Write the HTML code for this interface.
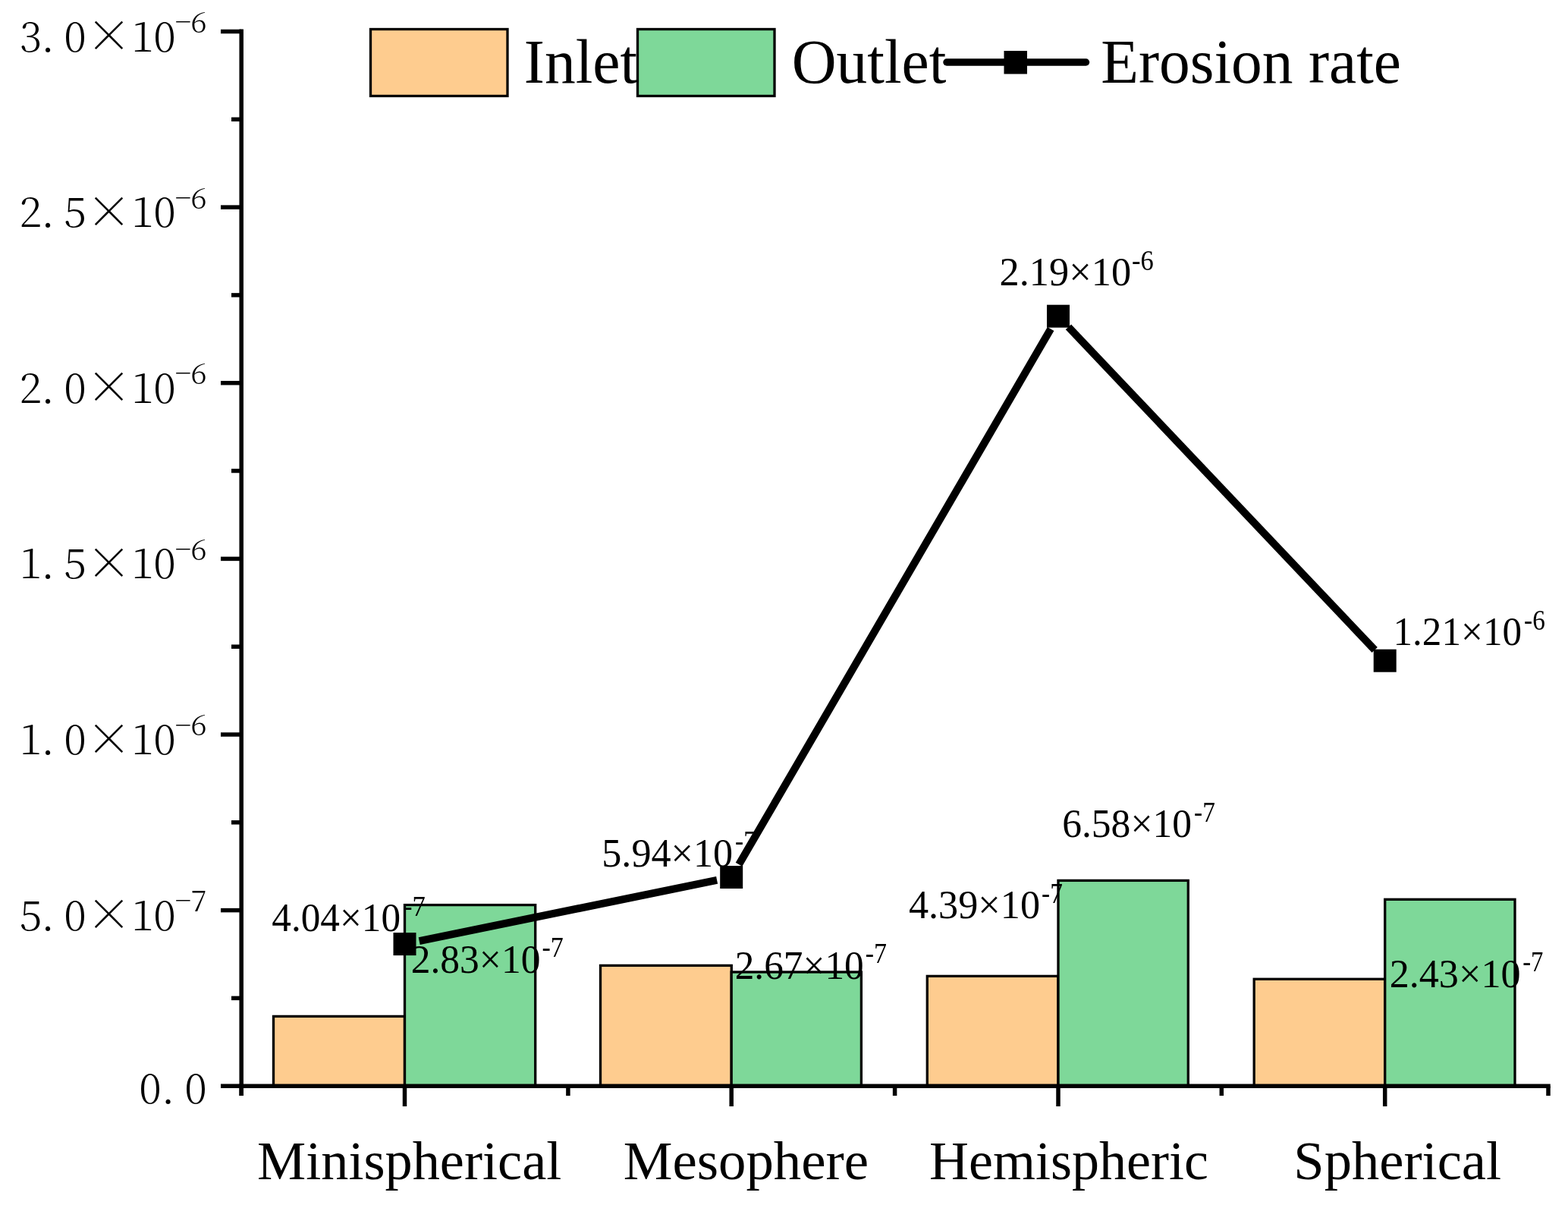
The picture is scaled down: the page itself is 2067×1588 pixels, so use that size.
<!DOCTYPE html>
<html><head><meta charset="utf-8"><title>Erosion rate chart</title>
<style>html,body{margin:0;padding:0;background:#fff;width:2067px;height:1588px;overflow:hidden}svg{display:block}</style>
</head><body>
<svg width="2067" height="1588" viewBox="0 0 2067 1588">
<rect x="0" y="0" width="2067" height="1588" fill="#fff"/>
<rect x="360.5" y="1339.4" width="173.0" height="91.8" fill="#FECC8F" stroke="#000" stroke-width="3.3"/>
<rect x="791.5" y="1272.4" width="172.8" height="158.8" fill="#FECC8F" stroke="#000" stroke-width="3.3"/>
<rect x="1222.3" y="1286.4" width="172.7" height="144.8" fill="#FECC8F" stroke="#000" stroke-width="3.3"/>
<rect x="1653.2" y="1290.3" width="172.5" height="140.9" fill="#FECC8F" stroke="#000" stroke-width="3.3"/>
<rect x="533.5" y="1192.6" width="172.2" height="238.6" fill="#7ED899" stroke="#000" stroke-width="3.3"/>
<rect x="964.2" y="1281.0" width="171.2" height="150.2" fill="#7ED899" stroke="#000" stroke-width="3.3"/>
<rect x="1395.0" y="1160.4" width="171.3" height="270.8" fill="#7ED899" stroke="#000" stroke-width="3.3"/>
<rect x="1825.7" y="1185.3" width="171.3" height="245.9" fill="#7ED899" stroke="#000" stroke-width="3.3"/>
<g stroke="#000" stroke-width="5.5">
<line x1="318.2" y1="38.5" x2="318.2" y2="1444"/>
<line x1="315.45" y1="1431.2" x2="2043.75" y2="1431.2"/>
<line x1="291" y1="1431.2" x2="318.2" y2="1431.2"/>
<line x1="291" y1="1199.6" x2="318.2" y2="1199.6"/>
<line x1="291" y1="968.0" x2="318.2" y2="968.0"/>
<line x1="291" y1="736.4" x2="318.2" y2="736.4"/>
<line x1="291" y1="504.7" x2="318.2" y2="504.7"/>
<line x1="291" y1="273.1" x2="318.2" y2="273.1"/>
<line x1="291" y1="41.5" x2="318.2" y2="41.5"/>
<line x1="305" y1="1315.4" x2="318.2" y2="1315.4"/>
<line x1="305" y1="1083.8" x2="318.2" y2="1083.8"/>
<line x1="305" y1="852.2" x2="318.2" y2="852.2"/>
<line x1="305" y1="620.5" x2="318.2" y2="620.5"/>
<line x1="305" y1="388.9" x2="318.2" y2="388.9"/>
<line x1="305" y1="157.3" x2="318.2" y2="157.3"/>
<line x1="533.5" y1="1431.2" x2="533.5" y2="1458"/>
<line x1="964.2" y1="1431.2" x2="964.2" y2="1458"/>
<line x1="1395.0" y1="1431.2" x2="1395.0" y2="1458"/>
<line x1="1825.7" y1="1431.2" x2="1825.7" y2="1458"/>
<line x1="318.2" y1="1431.2" x2="318.2" y2="1444"/>
<line x1="748.9" y1="1431.2" x2="748.9" y2="1444"/>
<line x1="1179.6" y1="1431.2" x2="1179.6" y2="1444"/>
<line x1="1610.3" y1="1431.2" x2="1610.3" y2="1444"/>
<line x1="2041.0" y1="1431.2" x2="2041.0" y2="1444"/>
</g>
<g font-family="'Noto Serif CJK SC','Liberation Serif',serif" font-weight="300" fill="#000" text-anchor="middle"><text x="40.5" y="67.5" font-size="54.5">3</text><text x="63" y="67.5" font-size="54.5">.</text><text x="99" y="67.5" font-size="54.5">0</text><text x="143.5" y="69.0" font-size="61.0">×</text><text x="188" y="67.5" font-size="54.5">1</text><text x="217" y="67.5" font-size="54.5">0</text><text x="241.5" y="42.0" font-size="37.0">−</text><text x="262" y="42.9" font-size="39">6</text></g>
<g font-family="'Noto Serif CJK SC','Liberation Serif',serif" font-weight="300" fill="#000" text-anchor="middle"><text x="40.5" y="299.1" font-size="54.5">2</text><text x="63" y="299.1" font-size="54.5">.</text><text x="99" y="299.1" font-size="54.5">5</text><text x="143.5" y="300.6" font-size="61.0">×</text><text x="188" y="299.1" font-size="54.5">1</text><text x="217" y="299.1" font-size="54.5">0</text><text x="241.5" y="273.6" font-size="37.0">−</text><text x="262" y="274.5" font-size="39">6</text></g>
<g font-family="'Noto Serif CJK SC','Liberation Serif',serif" font-weight="300" fill="#000" text-anchor="middle"><text x="40.5" y="530.7" font-size="54.5">2</text><text x="63" y="530.7" font-size="54.5">.</text><text x="99" y="530.7" font-size="54.5">0</text><text x="143.5" y="532.2" font-size="61.0">×</text><text x="188" y="530.7" font-size="54.5">1</text><text x="217" y="530.7" font-size="54.5">0</text><text x="241.5" y="505.2" font-size="37.0">−</text><text x="262" y="506.1" font-size="39">6</text></g>
<g font-family="'Noto Serif CJK SC','Liberation Serif',serif" font-weight="300" fill="#000" text-anchor="middle"><text x="40.5" y="762.4" font-size="54.5">1</text><text x="63" y="762.4" font-size="54.5">.</text><text x="99" y="762.4" font-size="54.5">5</text><text x="143.5" y="763.9" font-size="61.0">×</text><text x="188" y="762.4" font-size="54.5">1</text><text x="217" y="762.4" font-size="54.5">0</text><text x="241.5" y="736.9" font-size="37.0">−</text><text x="262" y="737.8" font-size="39">6</text></g>
<g font-family="'Noto Serif CJK SC','Liberation Serif',serif" font-weight="300" fill="#000" text-anchor="middle"><text x="40.5" y="994.0" font-size="54.5">1</text><text x="63" y="994.0" font-size="54.5">.</text><text x="99" y="994.0" font-size="54.5">0</text><text x="143.5" y="995.5" font-size="61.0">×</text><text x="188" y="994.0" font-size="54.5">1</text><text x="217" y="994.0" font-size="54.5">0</text><text x="241.5" y="968.5" font-size="37.0">−</text><text x="262" y="969.4" font-size="39">6</text></g>
<g font-family="'Noto Serif CJK SC','Liberation Serif',serif" font-weight="300" fill="#000" text-anchor="middle"><text x="40.5" y="1225.6" font-size="54.5">5</text><text x="63" y="1225.6" font-size="54.5">.</text><text x="99" y="1225.6" font-size="54.5">0</text><text x="143.5" y="1227.1" font-size="61.0">×</text><text x="188" y="1225.6" font-size="54.5">1</text><text x="217" y="1225.6" font-size="54.5">0</text><text x="241.5" y="1200.1" font-size="37.0">−</text><text x="262" y="1201.0" font-size="39">7</text></g>
<g font-family="'Noto Serif CJK SC','Liberation Serif',serif" font-weight="300" fill="#000" text-anchor="middle"><text x="198" y="1453.7" font-size="54.5">0</text><text x="221.5" y="1453.7" font-size="54.5">.</text><text x="258" y="1453.7" font-size="54.5">0</text></g>
<g font-family="'Liberation Serif','Times New Roman',serif" fill="#000">
<text x="339.00" y="1554.00" font-size="72.3" textLength="401.28" lengthAdjust="spacingAndGlyphs">Minispherical</text>
<text x="821.79" y="1553.80" font-size="72.3" textLength="323.32" lengthAdjust="spacingAndGlyphs">Mesophere</text>
<text x="1224.91" y="1553.70" font-size="72.3" textLength="367.97" lengthAdjust="spacingAndGlyphs">Hemispheric</text>
<text x="1705.39" y="1554.10" font-size="72.3" textLength="273.80" lengthAdjust="spacingAndGlyphs">Spherical</text>
</g>
<g stroke="#000" stroke-width="10">
<line x1="552.7" y1="1240.1" x2="945.1" y2="1159.9"/>
<line x1="974.1" y1="1139.2" x2="1385.1" y2="433.6"/>
<line x1="1408.4" y1="430.9" x2="1812.2" y2="856.5"/>
</g>
<rect x="518.5" y="1229.1" width="30" height="30" fill="#000"/>
<rect x="949.2" y="1141.0" width="30" height="30" fill="#000"/>
<rect x="1380.0" y="401.7" width="30" height="30" fill="#000"/>
<rect x="1810.7" y="855.7" width="30" height="30" fill="#000"/>
<g font-family="'Liberation Serif','Times New Roman',serif" fill="#000"><text x="358.34" y="1227.20" font-size="53.5" textLength="169.73" lengthAdjust="spacingAndGlyphs">4.04×10</text><text x="532.09" y="1206.70" font-size="38.0" textLength="28.82" lengthAdjust="spacingAndGlyphs">-7</text></g>
<g font-family="'Liberation Serif','Times New Roman',serif" fill="#000"><text x="541.67" y="1281.90" font-size="53.5" textLength="170.81" lengthAdjust="spacingAndGlyphs">2.83×10</text><text x="714.51" y="1261.40" font-size="38.0" textLength="28.29" lengthAdjust="spacingAndGlyphs">-7</text></g>
<g font-family="'Liberation Serif','Times New Roman',serif" fill="#000"><text x="793.28" y="1141.80" font-size="53.5" textLength="172.83" lengthAdjust="spacingAndGlyphs">5.94×10</text><text x="969.12" y="1121.30" font-size="38.0" textLength="27.75" lengthAdjust="spacingAndGlyphs">-7</text></g>
<g font-family="'Liberation Serif','Times New Roman',serif" fill="#000"><text x="968.68" y="1289.50" font-size="53.5" textLength="170.10" lengthAdjust="spacingAndGlyphs">2.67×10</text><text x="1140.81" y="1269.00" font-size="38.0" textLength="28.29" lengthAdjust="spacingAndGlyphs">-7</text></g>
<g font-family="'Liberation Serif','Times New Roman',serif" fill="#000"><text x="1317.54" y="376.10" font-size="53.5" textLength="173.57" lengthAdjust="spacingAndGlyphs">2.19×10</text><text x="1492.09" y="355.60" font-size="38.0" textLength="28.82" lengthAdjust="spacingAndGlyphs">-6</text></g>
<g font-family="'Liberation Serif','Times New Roman',serif" fill="#000"><text x="1400.17" y="1103.40" font-size="53.5" textLength="170.92" lengthAdjust="spacingAndGlyphs">6.58×10</text><text x="1574.12" y="1082.90" font-size="38.0" textLength="27.75" lengthAdjust="spacingAndGlyphs">-7</text></g>
<g font-family="'Liberation Serif','Times New Roman',serif" fill="#000"><text x="1197.92" y="1210.00" font-size="53.5" textLength="173.19" lengthAdjust="spacingAndGlyphs">4.39×10</text><text x="1373.12" y="1189.50" font-size="38.0" textLength="27.75" lengthAdjust="spacingAndGlyphs">-7</text></g>
<g font-family="'Liberation Serif','Times New Roman',serif" fill="#000"><text x="1836.47" y="850.30" font-size="53.5" textLength="169.60" lengthAdjust="spacingAndGlyphs">1.21×10</text><text x="2009.12" y="829.80" font-size="38.0" textLength="27.75" lengthAdjust="spacingAndGlyphs">-6</text></g>
<g font-family="'Liberation Serif','Times New Roman',serif" fill="#000"><text x="1831.65" y="1300.50" font-size="53.5" textLength="172.96" lengthAdjust="spacingAndGlyphs">2.43×10</text><text x="2007.14" y="1280.00" font-size="38.0" textLength="27.22" lengthAdjust="spacingAndGlyphs">-7</text></g>
<rect x="488.5" y="38.5" width="180.5" height="88" fill="#FECC8F" stroke="#000" stroke-width="3.3"/>
<g font-family="'Liberation Serif','Times New Roman',serif" fill="#000"><text x="690.80" y="108.50" font-size="81.5" textLength="149.35" lengthAdjust="spacingAndGlyphs">Inlet</text></g>
<rect x="840.5" y="38.5" width="180.5" height="88" fill="#7ED899" stroke="#000" stroke-width="3.3"/>
<g font-family="'Liberation Serif','Times New Roman',serif" fill="#000"><text x="1043.70" y="108.60" font-size="81.5" textLength="203.71" lengthAdjust="spacingAndGlyphs">Outlet</text></g>
<line x1="1248" y1="82" x2="1431.5" y2="82" stroke="#000" stroke-width="9.5" stroke-linecap="round"/>
<rect x="1323.5" y="67" width="30.5" height="30.5" fill="#000"/>
<g font-family="'Liberation Serif','Times New Roman',serif" fill="#000"><text x="1451.20" y="108.60" font-size="81.5" textLength="395.77" lengthAdjust="spacingAndGlyphs">Erosion rate</text></g>
</svg>
</body></html>
